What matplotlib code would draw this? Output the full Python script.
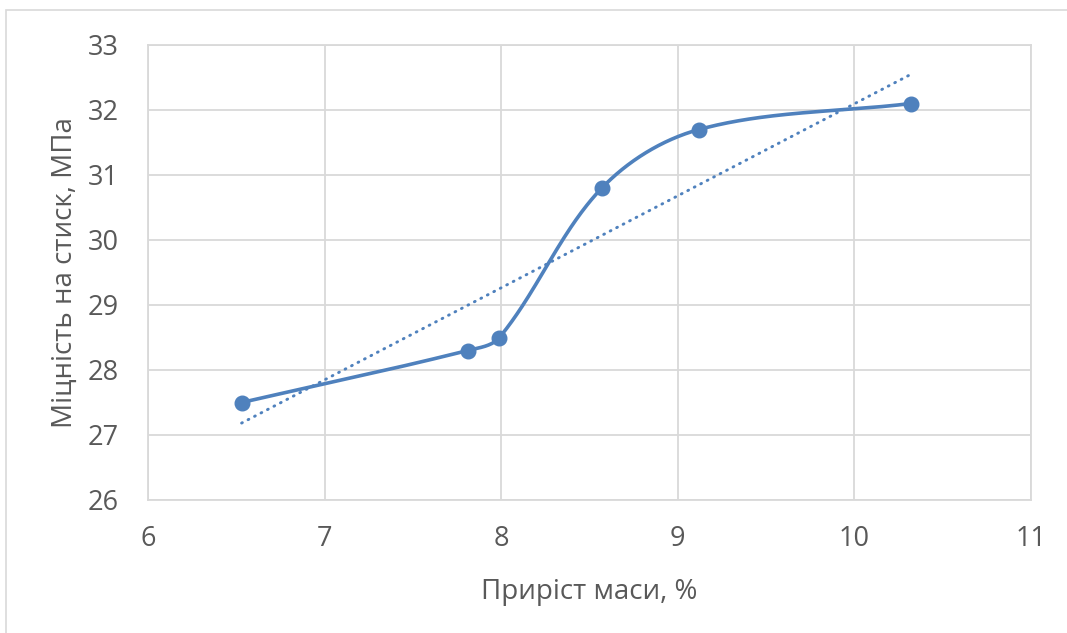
import numpy as np
import matplotlib
matplotlib.use('Agg')
from matplotlib import pyplot as plt
from matplotlib.patches import Rectangle

# Дані з графіка
pririst_masy = [6.53, 7.81, 7.99, 8.57, 9.12, 10.32]
mitsnist = [27.5, 28.3, 28.5, 30.8, 31.7, 32.1]

x_ticks = [6, 7, 8, 9, 10, 11]
y_ticks = [26, 27, 28, 29, 30, 31, 32, 33]

kolir = '#4F81BD'
hrid = '#D9D9D9'
tekst = '#595959'

plt.rcParams['font.family'] = ['Open Sans', 'DejaVu Sans']


def zghladzhena_liniia(xs, ys, sx=176.6, sy=65.0, n=80):
    # згладжена лінія як у Excel: кубічні криві Безьє,
    # дотична в точці - напрям між сусідами, довжина - від довжини відрізка
    px = np.array(xs, dtype=float) * sx
    py = np.array(ys, dtype=float) * sy
    P = np.column_stack([px, py])
    k = len(P)
    tang = []
    for i in range(k):
        d = P[min(i + 1, k - 1)] - P[max(i - 1, 0)]
        tang.append(d / np.hypot(*d))
    out = []
    for i in range(k - 1):
        L = np.hypot(*(P[i + 1] - P[i]))
        c1 = P[i] + tang[i] * L / 3
        c2 = P[i + 1] - tang[i + 1] * L / 3
        t = np.linspace(0, 1, n)[:, None]
        b = (1-t)**3*P[i] + 3*(1-t)**2*t*c1 + 3*(1-t)*t**2*c2 + t**3*P[i+1]
        out.append(b)
    out = np.vstack(out)
    return out[:, 0] / sx, out[:, 1] / sy


fig = plt.figure(figsize=(10.67, 6.33), dpi=100)
ax = fig.add_axes([148/1067, 1 - 500/633, 883/1067, 455/633])

# рамка діаграми
fig.patches.append(Rectangle((6/1067, -0.05), 1.1, 1 - 10/633 + 0.05,
                             transform=fig.transFigure, fill=False,
                             edgecolor=hrid, linewidth=1.2))

gx, gy = zghladzhena_liniia(pririst_masy, mitsnist)
ax.plot(gx, gy, color=kolir, linewidth=2.6, solid_capstyle='round', zorder=3)
ax.plot(pririst_masy, mitsnist, 'o', color=kolir, markersize=10.5, zorder=4)

# лінійний тренд
a, b = np.polyfit(pririst_masy, mitsnist, 1)
tx = np.array([pririst_masy[0], pririst_masy[-1]])
ax.plot(tx, a * tx + b, color=kolir, linewidth=2.1, linestyle=(0, (0.3, 2.2)),
        dash_capstyle='round', zorder=2)

ax.set_xlim(6, 11)
ax.set_ylim(26, 33)
ax.set_xticks(x_ticks)
ax.set_yticks(y_ticks)
ax.grid(True, color=hrid, linewidth=1.3)
ax.set_axisbelow(True)
for s in ax.spines.values():
    s.set_color(hrid)
    s.set_linewidth(1.3)
ax.tick_params(length=0, labelsize=19.5, colors=tekst)
ax.tick_params(axis='x', pad=18)
ax.tick_params(axis='y', pad=21)
ax.set_xlabel('Приріст маси, %', fontsize=20, color=tekst, labelpad=18)
ax.set_ylabel('Міцність на стиск, МПа', fontsize=20, color=tekst, labelpad=6)

fig.savefig('out.png', dpi=100)
